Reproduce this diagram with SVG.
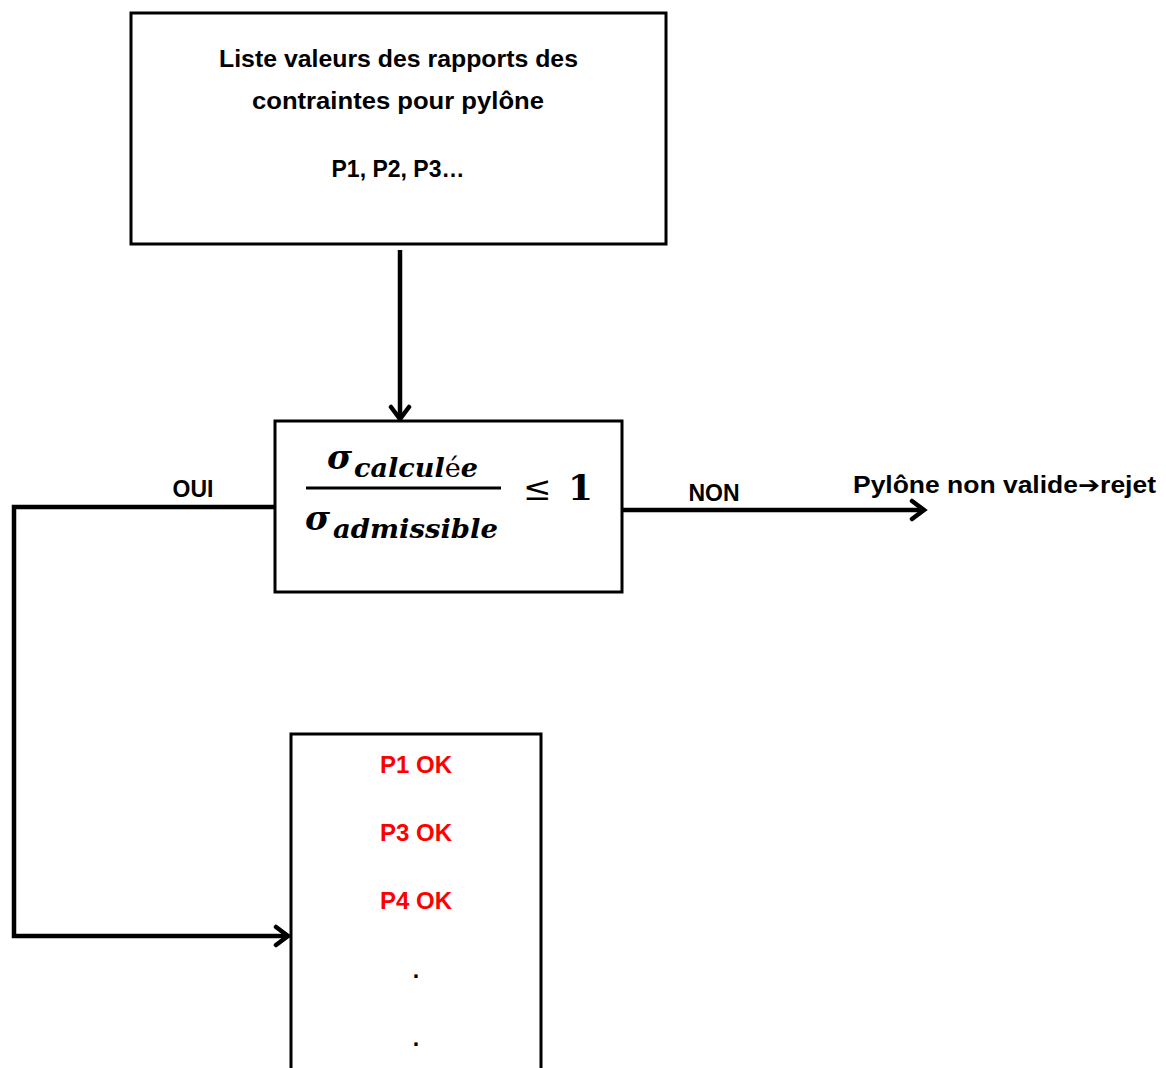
<svg xmlns="http://www.w3.org/2000/svg" width="1166" height="1068" viewBox="0 0 1166 1068">
<style>
.box{fill:#fff;stroke:#000;stroke-width:3}
.conn{fill:none;stroke:#000;stroke-width:4.5;stroke-linejoin:miter}
.t{font-family:"Liberation Sans",Arial,sans-serif;font-weight:bold;font-size:23px;fill:#000}
.red{fill:#ff0000;font-size:24px}
.m{font-family:"DejaVu Serif","Liberation Serif",serif;font-weight:bold;font-style:italic;fill:#000}
</style>
<defs>
<marker id="arr" viewBox="0 0 20 24" refX="16" refY="12" markerWidth="20" markerHeight="24" markerUnits="userSpaceOnUse" orient="auto">
<path d="M4,3 L16,12 L4,21" fill="none" stroke="#000" stroke-width="4.5" stroke-linecap="round" stroke-linejoin="miter"/>
</marker>
</defs>
<rect width="1166" height="1068" fill="#fff"/>
<g id="connectors">
<line class="conn" x1="400" y1="250" x2="400" y2="419" marker-end="url(#arr)"/>
<polyline class="conn" points="275,507 14,507 14,936 288,936" marker-end="url(#arr)"/>
<line class="conn" x1="622" y1="510" x2="924" y2="510" marker-end="url(#arr)"/>
</g>
<g id="node-liste">
<rect class="box" x="131" y="13" width="535" height="231"/>
<text class="t" x="219" y="67" textLength="359" lengthAdjust="spacingAndGlyphs">Liste valeurs des rapports des</text>
<text class="t" x="252" y="109" textLength="292" lengthAdjust="spacingAndGlyphs">contraintes pour pylône</text>
<text class="t" x="398" y="177" text-anchor="middle">P1, P2, P3…</text>
</g>
<g id="node-condition">
<rect class="box" x="275" y="421" width="347" height="171"/>
<text class="m" x="327" y="469" font-size="34">σ</text>
<text class="m" x="354" y="477" font-size="26" textLength="124" lengthAdjust="spacingAndGlyphs">calcul<tspan font-style="normal" font-weight="normal">é</tspan>e</text>
<line x1="306" y1="488" x2="501" y2="488" stroke="#000" stroke-width="3"/>
<text class="m" x="305" y="530" font-size="34">σ</text>
<text class="m" x="333" y="538" font-size="26" textLength="165" lengthAdjust="spacingAndGlyphs">admissible</text>
<text x="523" y="500" font-family="'DejaVu Serif','Liberation Serif',serif" font-size="34" fill="#000">≤</text>
<text x="568" y="500" font-family="'DejaVu Serif','Liberation Serif',serif" font-weight="bold" font-size="36" fill="#000">1</text>
</g>
<g id="label-oui"><text class="t" x="193" y="497" text-anchor="middle">OUI</text></g>
<g id="label-non"><text class="t" x="714" y="501" text-anchor="middle">NON</text></g>
<g id="node-rejet"><text class="t" x="853" y="493" textLength="303" lengthAdjust="spacingAndGlyphs">Pylône non valide<tspan font-family="'DejaVu Sans',sans-serif">➔</tspan>rejet</text></g>
<g id="node-ok">
<path class="box" d="M291,1070 L291,734 L541,734 L541,1070"/>
<text class="t red" x="416" y="773" text-anchor="middle">P1 OK</text>
<text class="t red" x="416" y="841" text-anchor="middle">P3 OK</text>
<text class="t red" x="416" y="909" text-anchor="middle">P4 OK</text>
<text class="t" x="416" y="978" text-anchor="middle" font-weight="normal" font-size="16">.</text>
<text class="t" x="416" y="1046" text-anchor="middle" font-weight="normal" font-size="16">.</text>
</g>
</svg>
